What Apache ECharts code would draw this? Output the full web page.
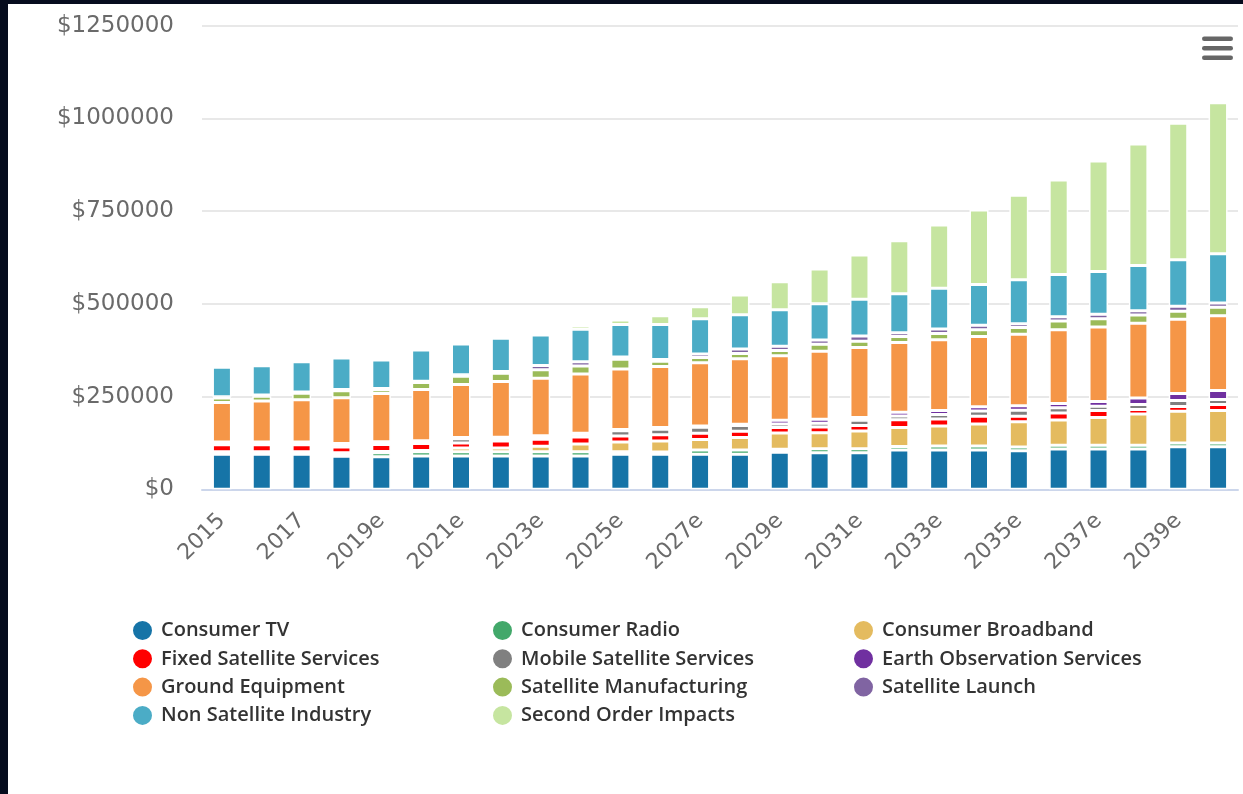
<!DOCTYPE html>
<html>
<head>
<meta charset="utf-8">
<title>Satellite industry revenue forecast</title>
<script src="https://cdn.jsdelivr.net/npm/echarts@6/dist/echarts.min.js"></script>
<style>
  html, body { margin: 0; padding: 0; width: 1243px; height: 794px; overflow: hidden; background: #060c1e; }
  #chart { position: absolute; left: 8px; top: 4px; width: 1235px; height: 790px; background: #ffffff; }
</style>
</head>
<body>
<div id="chart"></div>
<script>
// Years on the category axis ("e" = estimate)
const years = ['2015', '2016', '2017', '2018', '2019e', '2020e', '2021e', '2022e', '2023e', '2024e',
  '2025e', '2026e', '2027e', '2028e', '2029e', '2030e', '2031e', '2032e', '2033e', '2034e',
  '2035e', '2036e', '2037e', '2038e', '2039e', '2040e'];

// Value axis ticks
const yMin = 0;
const yMax = 1250000;
const yStep = 250000;

// Revenue per segment, USD
const consumerTV = [94400, 94400, 94400, 89000, 87900, 89800, 89800, 89800, 89800, 89800,
  94400, 94400, 94400, 94400, 99800, 98700, 98700, 106000, 106000, 106000,
  104100, 108700, 108700, 108700, 114900, 114900];
const consumerRadio = [3500, 3500, 3500, 4900, 10800, 11600, 11600, 11600, 11600, 11600,
  6700, 6200, 11600, 11600, 8100, 10800, 10800, 9700, 10800, 10800,
  10000, 10000, 10000, 10000, 10000, 10000];
const consumerBroadband = [3500, 3500, 3500, 4900, 3500, 3500, 10000, 10000, 14600, 20800,
  26200, 29700, 28000, 33400, 44200, 43200, 47700, 51200, 53900, 59300,
  68200, 68500, 74700, 84400, 85500, 87400];
const fixedSatellite = [18900, 18900, 18900, 15400, 18900, 18900, 13500, 18900, 18900, 18900,
  16200, 17000, 17000, 17000, 14300, 15400, 14600, 20800, 18900, 20800,
  14600, 18900, 18900, 12400, 12700, 16200];
const mobileSatellite = [3500, 3500, 3500, 4600, 3500, 3500, 11600, 4900, 4900, 4900,
  14300, 14600, 16200, 15400, 10000, 10000, 14600, 10000, 11900, 14300,
  16200, 13500, 11900, 13500, 16200, 13500];
const earthObservation = [3500, 3500, 3500, 4600, 3500, 3500, 3500, 4900, 4900, 4900,
  3500, 4900, 3500, 3500, 10000, 10800, 7000, 10000, 10800, 11600,
  11900, 11900, 12700, 17000, 18900, 24300];
const groundEquipment = [106800, 111100, 114400, 123500, 130500, 138100, 142700, 150500, 154800, 159900,
  163200, 164200, 170700, 176900, 173700, 183100, 188800, 188000, 190900, 189600,
  193400, 199000, 200900, 201700, 200400, 202000];
const satelliteManufacturing = [11900, 12700, 17300, 18900, 9700, 18900, 22400, 22100, 22700, 21600,
  26200, 14300, 14300, 14300, 14300, 18900, 17000, 16200, 17300, 18100,
  18100, 23500, 22400, 22400, 21600, 22400];
const satelliteLaunch = [3500, 3500, 3500, 3500, 3500, 3500, 3500, 4900, 11600, 11600,
  6200, 4900, 8900, 11600, 11600, 11900, 14300, 10000, 11600, 11600,
  9700, 11600, 11600, 11600, 13500, 11600];
const nonSatellite = [79600, 78800, 81400, 85000, 76900, 84400, 83100, 89800, 82500, 87900,
  87700, 94400, 95200, 92500, 98200, 97600, 99000, 105500, 110300, 110300,
  118900, 113800, 115700, 121900, 125400, 133000];
const secondOrder = [0, 0, 0, 0, 0, 0, 0, 0, 0, 9400,
  12100, 23700, 32600, 53400, 75800, 93900, 119200, 143200, 170400, 200900,
  227900, 254900, 298000, 327700, 368100, 407500];

// Stack order, bottom to top
const segments = [
  { name: 'Consumer TV', color: '#1674a7', data: consumerTV },
  { name: 'Consumer Radio', color: '#42a86a', data: consumerRadio },
  { name: 'Consumer Broadband', color: '#e4bb5f', data: consumerBroadband },
  { name: 'Fixed Satellite Services', color: '#ff0000', data: fixedSatellite },
  { name: 'Mobile Satellite Services', color: '#808080', data: mobileSatellite },
  { name: 'Earth Observation Services', color: '#7030a0', data: earthObservation },
  { name: 'Ground Equipment', color: '#f59647', data: groundEquipment },
  { name: 'Satellite Manufacturing', color: '#9bbb59', data: satelliteManufacturing },
  { name: 'Satellite Launch', color: '#8064a2', data: satelliteLaunch },
  { name: 'Non Satellite Industry', color: '#4bacc6', data: nonSatellite },
  { name: 'Second Order Impacts', color: '#c6e5a0', data: secondOrder }
];

// Legend laid out in three columns
const legendColumns = [
  ['Consumer TV', 'Fixed Satellite Services', 'Ground Equipment', 'Non Satellite Industry'],
  ['Consumer Radio', 'Mobile Satellite Services', 'Satellite Manufacturing', 'Second Order Impacts'],
  ['Consumer Broadband', 'Earth Observation Services', 'Satellite Launch']
];
const legendLefts = [118, 478, 839];

const labelFont = 'DejaVu Sans';

const chart = echarts.init(document.getElementById('chart'), null, { renderer: 'canvas' });

const option = {
  animation: false,
  backgroundColor: '#ffffff',
  grid: { left: 194, right: 5, top: 21.8, bottom: 304.7, containLabel: false },
  legend: legendColumns.map((col, i) => ({
    data: col,
    orient: 'vertical',
    left: legendLefts[i],
    top: 610,
    icon: 'circle',
    itemWidth: 21,
    itemHeight: 21,
    itemGap: 5.3,
    selectedMode: false,
    textStyle: {
      fontFamily: 'Open Sans',
      fontSize: 20,
      fontWeight: 600,
      color: '#333333',
      lineHeight: 20,
      padding: [0, 0, 0, 3]
    }
  })),
  xAxis: {
    type: 'category',
    data: years,
    boundaryGap: true,
    axisLine: { show: true, lineStyle: { color: '#ccd6eb', width: 2 } },
    axisTick: { show: false },
    axisLabel: {
      interval: 1,
      rotate: 45,
      margin: 28,
      fontFamily: labelFont,
      fontSize: 22,
      color: '#6a6a6a'
    },
    splitLine: { show: false }
  },
  yAxis: {
    type: 'value',
    min: yMin,
    max: yMax,
    interval: yStep,
    axisLine: { show: false },
    axisTick: { show: false },
    axisLabel: {
      margin: 28,
      fontFamily: labelFont,
      fontSize: 23,
      color: '#6a6a6a',
      formatter: v => '$' + v
    },
    splitLine: { show: true, lineStyle: { color: '#e8e8e8', width: 2 } }
  },
  series: segments.map(s => ({
    name: s.name,
    type: 'bar',
    stack: 'total',
    barWidth: 19,
    data: s.data,
    itemStyle: { color: s.color, borderColor: '#ffffff', borderWidth: 1.5 },
    emphasis: { disabled: true }
  })),
  graphic: [0, 1, 2].map(i => ({
    type: 'rect',
    shape: { x: 1194, y: 32.5 + i * 9.5, width: 31, height: 4.5, r: 2.2 },
    style: { fill: '#666666' },
    silent: true
  }))
};

chart.setOption(option);
</script>
</body>
</html>
